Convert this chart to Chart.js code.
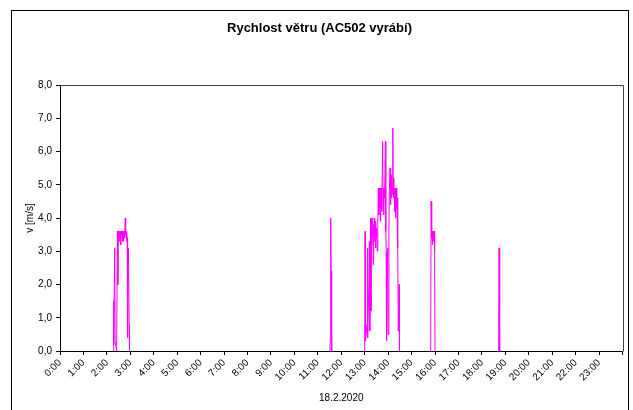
<!DOCTYPE html>
<html>
<head>
<meta charset="utf-8">
<script src="https://cdn.jsdelivr.net/npm/chart.js@4"></script>
<style>
  html, body { margin:0; padding:0; background:#fff; }
  #wrap { width:633px; height:410px; }
</style>
</head>
<body>
<div id="wrap"><canvas id="chart" width="633" height="410"></canvas></div>
<script>
// Chart texts
const chartTitle = 'Rychlost větru (AC502 vyrábí)';
const yTitle = 'v [m/s]';
const xTitle = '18.2.2020';
const hourLabels = ['0:00','1:00','2:00','3:00','4:00','5:00','6:00','7:00','8:00','9:00','10:00','11:00',
  '12:00','13:00','14:00','15:00','16:00','17:00','18:00','19:00','20:00','21:00','22:00','23:00'];

// Wind speed bursts (time of day, m/s) - rest of the day is empty
const times1 = ['2:16','2:17','2:18','2:20','2:21','2:25','2:27','2:28','2:29','2:30','2:31','2:32','2:33','2:34',
  '2:35','2:36','2:37','2:38','2:39','2:40','2:41','2:42','2:43','2:44','2:45','2:46','2:47','2:48','2:49','2:50',
  '2:51','2:52','2:53','2:55','2:56','2:57','2:58'];
const speeds1 = [0,1.5,0.2,3.1,0.3,0,3.6,2.0,3.6,3.4,3.6,3.3,3.6,3.4,
  3.6,3.2,3.6,3.5,3.6,3.3,3.6,3.3,3.6,3.4,3.6,3.4,4.0,3.5,3.6,3.3,
  3.6,3.4,0.4,3.1,3.1,0.8,0];

const times2 = ['11:31','11:32','11:33','11:34','11:35','11:36'];
const speeds2 = [0,0.4,4.0,2.4,2.4,0];

const times3 = ['13:00','13:01','13:02','13:06','13:07','13:08','13:11','13:12','13:13','13:15','13:16','13:17',
  '13:18','13:19','13:20','13:21','13:22','13:23','13:24','13:25','13:26','13:27','13:28','13:29','13:30','13:31',
  '13:32','13:33','13:34','13:35','13:36','13:37','13:38','13:39','13:40','13:41','13:42','13:43','13:44','13:46',
  '13:47','13:48','13:49','13:50','13:51','13:53','13:54','13:55','13:56','13:59','14:00','14:02','14:03','14:05',
  '14:06','14:07','14:08','14:09','14:10','14:12','14:13','14:14','14:15','14:16','14:17','14:18','14:19','14:20',
  '14:21','14:22','14:23','14:24','14:25','14:26','14:28','14:29'];
const speeds3 = [0,3.6,0.3,0.8,3.1,0.4,2.2,3.3,0.6,4.0,1.2,3.9,
  3.2,4.0,3.4,3.9,2.6,3.8,3.3,4.0,3.5,3.9,3.1,3.7,3.4,3.6,
  3.0,3.6,3.8,4.9,4.1,4.8,4.3,4.9,3.9,4.9,4.4,4.9,4.2,6.3,
  4.5,4.9,4.1,4.9,4.6,6.3,3.6,3.0,0.3,3.1,0.5,3.6,4.8,5.5,
  4.4,4.9,4.6,5.3,4.7,6.7,4.8,5.2,4.6,4.9,4.2,4.9,4.0,4.8,
  4.3,4.9,4.1,4.6,3.1,0.6,2.0,0];

const times4 = ['15:49','15:50','15:51','15:52','15:53','15:54','15:55','15:56','15:57','15:58','15:59','16:00'];
const speeds4 = [0,4.5,3.4,3.6,3.2,3.6,3.3,3.6,3.4,3.6,3.0,0];

const times5 = ['18:43','18:44','18:45','18:46'];
const speeds5 = [0,3.1,0.5,0];

const FONT = 'Arial, "Liberation Sans", sans-serif';

function toHours(t){ const p=t.split(':'); return +p[0] + (+p[1])/60; }

// build points, with a gap between bursts
const bursts = [[times1,speeds1],[times2,speeds2],[times3,speeds3],[times4,speeds4],[times5,speeds5]];
const points = [];
bursts.forEach(([t,s],i)=>{
  if (i>0) points.push({x: toHours(t[0]) - 0.01, y: null});
  t.forEach((tt,j)=>points.push({x: toHours(tt), y: s[j]}));
});

const framePlugin = {
  id:'frame',
  beforeDraw(chart){
    const c=chart.ctx; c.save(); c.fillStyle='#fff'; c.fillRect(0,0,chart.width,chart.height); c.restore();
  },
  afterDraw(chart){
    const c=chart.ctx, a=chart.chartArea;
    c.save();
    c.strokeStyle='#000'; c.lineWidth=1;
    // outer chart border
    c.strokeRect(11.5,10.5,617,420);
    // plot area top + right
    c.strokeStyle='#444';
    c.beginPath();
    c.moveTo(Math.round(a.left)+0.5, Math.round(a.top)+0.5);
    c.lineTo(Math.round(a.right)+0.5, Math.round(a.top)+0.5);
    c.lineTo(Math.round(a.right)+0.5, Math.round(a.bottom)+0.5);
    c.stroke();
    c.restore();
  }
};

new Chart(document.getElementById('chart'), {
  type:'line',
  data:{ datasets:[{ data: points, borderColor:'#ff00ff', borderWidth:1, pointRadius:0, tension:0, spanGaps:false, fill:false }] },
  options:{
    responsive:false, animation:false,
    layout:{ padding:{ left:11, right:5, top:0, bottom:0 } },
    plugins:{
      legend:{ display:false }, tooltip:{ enabled:false },
      title:{ display:true, text: chartTitle, color:'#000',
        font:{ family: FONT, size:13, weight:'bold' }, padding:{ top:21, bottom:48.4 } }
    },
    scales:{
      x:{ type:'linear', min:0, max:24,
        afterFit: s => { s.height = 59; },
        border:{ color:'#000', width:1 },
        grid:{ drawOnChartArea:false, drawTicks:true, tickLength:4, color:'#000' },
        ticks:{ stepSize:1, autoSkip:false, minRotation:45, maxRotation:45, color:'#000', padding:2,
          font:{ family: FONT, size:10 }, callback: v => hourLabels[v] || '' },
        title:{ display:true, text:xTitle, color:'#000', font:{ family: FONT, size:10 }, padding:{ top:0, bottom:6 } }
      },
      y:{ min:0, max:8,
        afterFit: s => { s.width = 49; },
        border:{ color:'#000', width:1 },
        grid:{ drawOnChartArea:false, drawTicks:true, tickLength:4, color:'#000' },
        ticks:{ stepSize:1, color:'#000', padding:4, font:{ family: FONT, size:10 },
          callback: v => v.toFixed(1).replace('.',',') },
        title:{ display:true, text:yTitle, color:'#000', font:{ family: FONT, size:10 }, padding:{ top:13, bottom:0 } }
      }
    }
  },
  plugins:[framePlugin]
});
</script>
</body>
</html>
